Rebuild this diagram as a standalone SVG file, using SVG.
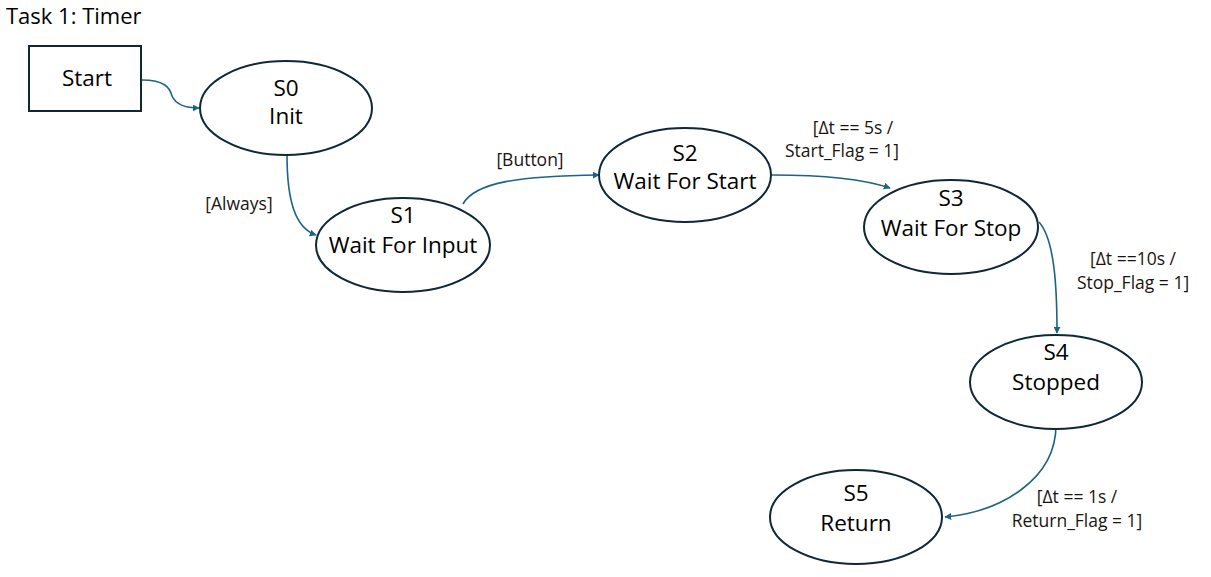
<svg xmlns="http://www.w3.org/2000/svg" width="1211" height="577" viewBox="0 0 1211 577">
<defs>
<style>
.node{fill:#fff;stroke:#0e2836;stroke-width:2}
.nt{font-family:"Open Sans","Liberation Sans",Arial,sans-serif;font-size:22.5px;fill:#000;text-anchor:middle}
.lbl{font-family:"Open Sans","Liberation Sans",Arial,sans-serif;font-size:17.5px;fill:#1a1410;text-anchor:middle}
.edge{fill:none;stroke:#1e6385;stroke-width:1.6;marker-end:url(#arr)}
</style>
<marker id="arr" viewBox="0 0 10 10" refX="9" refY="5" markerWidth="7" markerHeight="7" orient="auto" markerUnits="userSpaceOnUse">
<path d="M0,0 L10,5 L0,10 z" fill="#1e6385"/>
</marker>
</defs>
<rect width="1211" height="577" fill="#fff"/>
<text x="6" y="24" font-family="Open Sans,Liberation Sans,Arial,sans-serif" font-size="22" fill="#000">Task 1: Timer</text>
<g id="connectors">
<path class="edge" d="M142,80 C165,80 170,88 172,96 C176,105 188,108 199,108"/>
<path class="edge" d="M287,155 C287,200 295,228 316,235"/>
<path class="edge" d="M463,204 C475,182 520,176 599,175"/>
<path class="edge" d="M772,175 C820,175 860,178 890,188"/>
<path class="edge" d="M1039,222 C1055,240 1057,290 1057,333"/>
<path class="edge" d="M1056,425 C1056,480 1000,512 945,517"/>
</g>
<g id="labels">
<text class="lbl" x="239" y="210">[Always]</text>
<text class="lbl" x="530" y="166">[Button]</text>
<text class="lbl" x="853" y="134">[Δt == 5s /</text>
<text class="lbl" x="842" y="157">Start_Flag = 1]</text>
<text class="lbl" x="1133" y="265">[Δt ==10s /</text>
<text class="lbl" x="1133" y="289">Stop_Flag = 1]</text>
<text class="lbl" x="1077" y="503">[Δt == 1s /</text>
<text class="lbl" x="1077" y="527">Return_Flag = 1]</text>
</g>
<g id="start">
<rect class="node" x="29" y="46" width="112" height="65"/>
<text class="nt" x="87" y="86">Start</text>
</g>
<g id="s0">
<ellipse class="node" cx="286" cy="108" rx="86" ry="47"/>
<text class="nt" x="286" y="96">S0</text>
<text class="nt" x="286" y="124">Init</text>
</g>
<g id="s1">
<ellipse class="node" cx="403" cy="245" rx="87" ry="47"/>
<text class="nt" x="403" y="223">S1</text>
<text class="nt" x="403" y="253">Wait For Input</text>
</g>
<g id="s2">
<ellipse class="node" cx="685" cy="175" rx="86" ry="47"/>
<text class="nt" x="685" y="161">S2</text>
<text class="nt" x="685" y="189">Wait For Start</text>
</g>
<g id="s3">
<ellipse class="node" cx="951" cy="227" rx="87" ry="47"/>
<text class="nt" x="951" y="206">S3</text>
<text class="nt" x="951" y="236">Wait For Stop</text>
</g>
<g id="s4">
<ellipse class="node" cx="1056" cy="382" rx="86" ry="47"/>
<text class="nt" x="1056" y="360">S4</text>
<text class="nt" x="1056" y="390">Stopped</text>
</g>
<g id="s5">
<ellipse class="node" cx="856" cy="517" rx="86" ry="47"/>
<text class="nt" x="856" y="501">S5</text>
<text class="nt" x="856" y="531">Return</text>
</g>
</svg>
